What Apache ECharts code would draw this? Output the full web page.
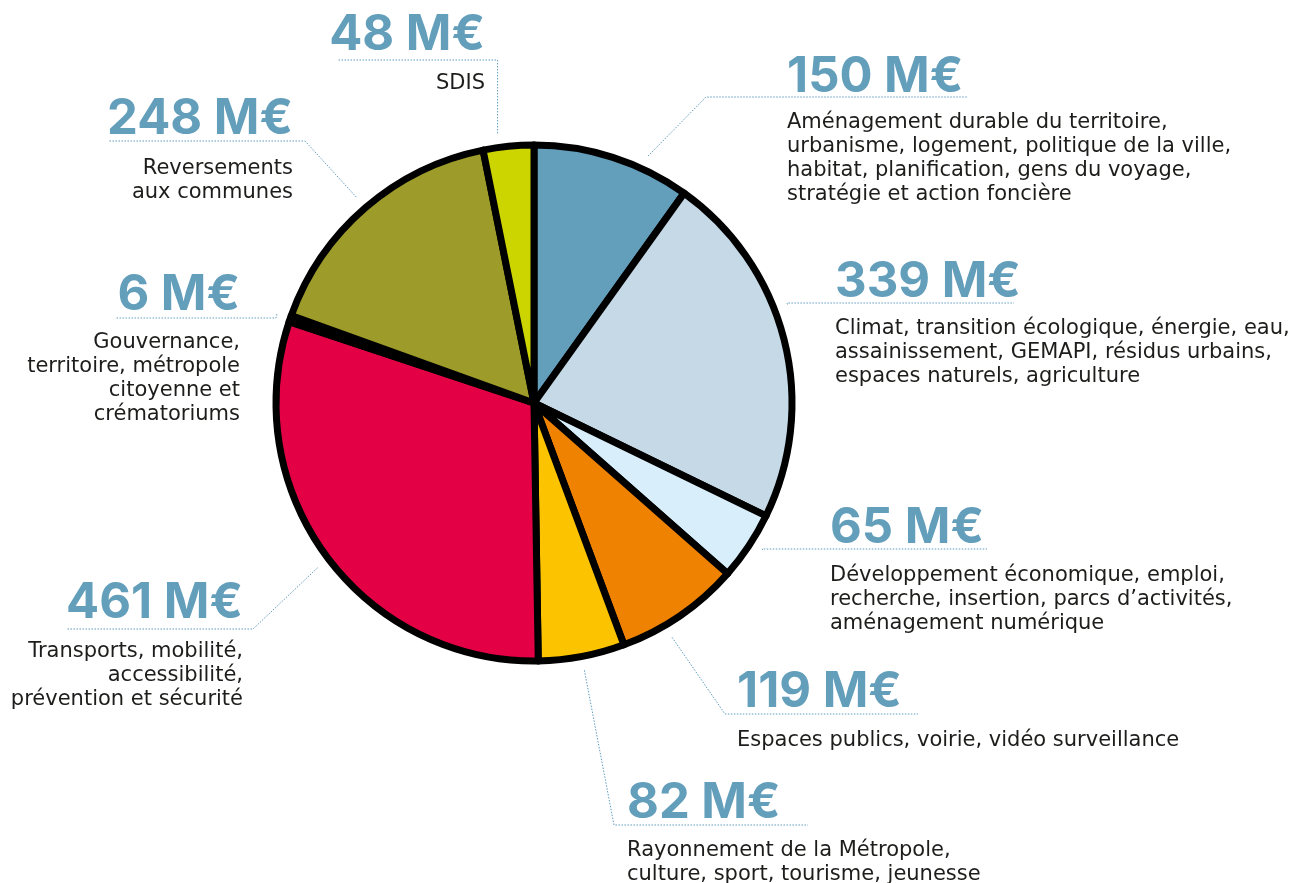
<!DOCTYPE html>
<html lang="fr">
<head>
    <meta charset="UTF-8">
    <title>Répartition des dépenses</title>
    <style>
        html, body { margin: 0; padding: 0; background: #fff; }
        #main { width: 1293px; height: 883px; }
    </style>
</head>
<body>
<div id="main"></div>
<script src="https://cdn.jsdelivr.net/npm/echarts@6/dist/echarts.min.js"></script>
<script type="text/javascript">
    // données (sens horaire depuis midi)
    var categories = [
        'Aménagement durable du territoire,\nurbanisme, logement, politique de la ville,\nhabitat, planification, gens du voyage,\nstratégie et action foncière',
        'Climat, transition écologique, énergie, eau,\nassainissement, GEMAPI, résidus urbains,\nespaces naturels, agriculture',
        'Développement économique, emploi,\nrecherche, insertion, parcs d’activités,\naménagement numérique',
        'Espaces publics, voirie, vidéo surveillance',
        'Rayonnement de la Métropole,\nculture, sport, tourisme, jeunesse',
        'Transports, mobilité,\naccessibilité,\nprévention et sécurité',
        'Gouvernance,\nterritoire, métropole\ncitoyenne et\ncrématoriums',
        'Reversements\naux communes',
        'SDIS'
    ];
    var values = [150, 339, 65, 119, 82, 461, 6, 248, 48];
    var unit = ' M€';
    var colors = ['#639ebb', '#c5d9e7', '#d8eefa', '#ef8200', '#fcc300', '#e30045', '#4a1030', '#9d9b29', '#ccd500'];

    // mise en page des étiquettes (pas des données)
    var cx = 534, cy = 403, R = 258;
    var labelPos = [
        {side: 'left',  vx: 787, vy: 77,  uy: 97,  near: 706, far: 968,  dx: 787, dy: 121, shift: 7},
        {side: 'left',  vx: 835, vy: 282, uy: 303, near: 787, far: 1014, dx: 835, dy: 327, shift: -7},
        {side: 'left',  vx: 830, vy: 528, uy: 549, near: 762, far: 987,  dx: 830, dy: 574, shift: -1},
        {side: 'left',  vx: 737, vy: 692, uy: 714, near: 725, far: 918,  dx: 737, dy: 739, shift: 4},
        {side: 'left',  vx: 627, vy: 803, uy: 825, near: 614, far: 808,  dx: 627, dy: 849, shift: 0},
        {side: 'right', vx: 243, vy: 603, uy: 629, near: 253, far: 67,   dx: 243, dy: 650, shift: -1},
        {side: 'right', vx: 240, vy: 295, uy: 318, near: 276, far: 115,  dx: 240, dy: 341, shift: 0},
        {side: 'right', vx: 293, vy: 119, uy: 141, near: 305, far: 108,  dx: 293, dy: 167, shift: 0},
        {side: 'right', vx: 485, vy: 35,  uy: 60,  near: 497, far: 337,  dx: 485, dy: 82,  shift: -2}
    ];

    var total = values.reduce(function (a, b) { return a + b; }, 0);
    var lineColor = '#5f9cc0';
    var graphics = [];
    var acc = 0;
    values.forEach(function (v, i) {
        var p = labelPos[i];
        var mid = (acc + v / 2) / total * 360 + p.shift;
        acc += v;
        var rad = mid * Math.PI / 180;
        var ax = cx + (R + 14) * Math.sin(rad);
        var ay = cy - (R + 14) * Math.cos(rad);
        var near = p.near;
        if (i === values.length - 1) near = ax; // ligne verticale pour SDIS
        graphics.push({
            type: 'polyline',
            silent: true,
            shape: {points: [[ax, ay], [near, p.uy], [p.far, p.uy]]},
            style: {stroke: lineColor, lineWidth: 1, lineDash: [1.5, 1.5], fill: null}
        });
        graphics.push({
            type: 'text',
            silent: true,
            style: {
                text: v + unit,
                x: p.vx, y: p.vy,
                font: 'bold 49px Inter, "Noto Sans", sans-serif',
                fill: '#639ebb',
                align: p.side, textAlign: p.side,
                verticalAlign: 'middle', textVerticalAlign: 'middle'
            }
        });
        graphics.push({
            type: 'text',
            silent: true,
            style: {
                text: categories[i],
                x: p.dx, y: p.dy - 10,
                font: '21px "DejaVu Sans", sans-serif',
                lineHeight: 24,
                fill: '#1d1d1b',
                align: p.side, textAlign: p.side,
                verticalAlign: 'top', textVerticalAlign: 'top'
            }
        });
    });

    var chart = echarts.init(document.getElementById('main'));
    var option = {
        backgroundColor: '#ffffff',
        animation: false,
        series: [{
            type: 'pie',
            center: [cx, cy],
            radius: R,
            startAngle: 90,
            clockwise: true,
            silent: true,
            label: {show: false},
            labelLine: {show: false},
            itemStyle: {borderColor: '#000000', borderWidth: 7},
            data: values.map(function (v, i) {
                return {value: v, name: categories[i], itemStyle: {color: colors[i]}};
            })
        }],
        graphic: graphics
    };
    chart.setOption(option);
</script>
</body>
</html>
